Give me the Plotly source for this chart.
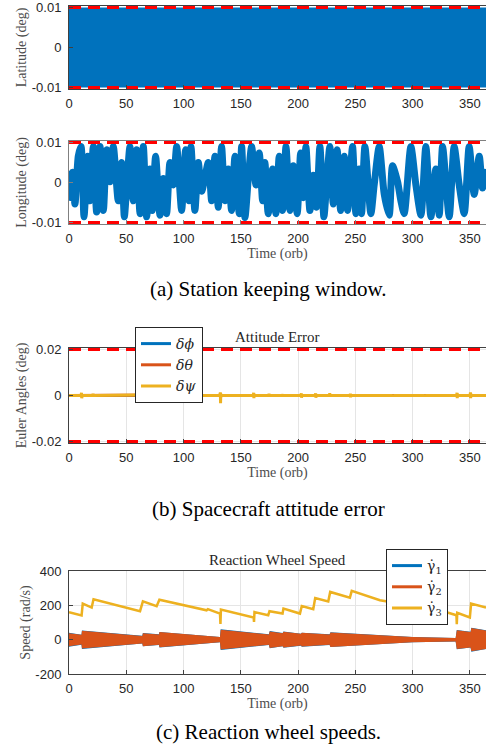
import plotly.graph_objects as go

# ---------------- data ----------------
time_ticks = [0, 50, 100, 150, 200, 250, 300, 350]

# (a) latitude: dense oscillation filling the window -> envelope
lat_t = [0, 365]
lat_upper = [0.01, 0.01]
lat_lower = [-0.01, -0.01]
lat_bound = 0.01

# (a) longitude: turning points of the thick oscillating trace
lon_t = [0, 2.9, 5.2, 8.1, 10.5, 13.1, 16.3, 18.3, 21.2, 24.1, 27.1, 30.0, 32.9, 35.8,
         38.7, 43.0, 46.0, 48.3, 50.3, 53.2, 56.1, 59.0, 62.0, 64.9, 67.8, 70.7, 72.7,
         75.6, 79.4, 82.3, 85.2, 88.1, 91.0, 94.0, 98.3, 101.8, 104.7, 106.5, 109.9,
         112.9, 115.8, 121.6, 124.5, 127.4, 130.3, 133.2, 136.1, 139.0, 141.9, 144.9,
         148.6, 150.7, 153.6, 156.5, 159.4, 163.2, 166.1, 169.0, 171.0, 173.9, 177.7,
         180.6, 183.5, 186.4, 189.4, 192.8, 195.8, 199.2, 202.2, 204.5, 206.8, 210.3,
         213.2, 216.1, 219.0, 222.5, 224.8, 227.7, 230.7, 234.1, 237.1, 240.3, 243.2,
         247.5, 250.4, 253.3, 255.4, 258.3, 263.5, 266.4, 270.8, 275.2, 279.5, 282.4,
         286.8, 289.7, 292.6, 298.4, 302.8, 307.2, 311.5, 315.9, 320.2, 323.2, 326.1,
         331.9, 336.2, 340.6, 345.0, 349.3, 353.7, 358.1, 361.0, 363.9]
lon_v = [-0.0046, 0.0026, -0.0054, 0.0066, 0.0090, -0.0086, 0.0066, -0.0046, 0.0090,
         -0.0074, 0.0090, -0.0070, 0.0082, 0.0002, 0.0090, -0.0046, 0.0050, -0.0086,
         -0.0014, 0.0090, -0.0046, 0.0082, -0.0078, 0.0090, -0.0086, 0.0034, -0.0070,
         0.0066, -0.0082, 0.0010, -0.0078, 0.0050, -0.0006, 0.0090, -0.0070, 0.0082,
         -0.0046, 0.0090, -0.0070, 0.0050, -0.0022, 0.0050, -0.0046, 0.0066, -0.0062,
         0.0090, -0.0046, 0.0034, -0.0070, 0.0066, -0.0078, 0.0090, -0.0088, 0.0010,
         0.0090, -0.0006, 0.0074, -0.0046, 0.0050, -0.0078, 0.0034, -0.0078, 0.0066,
         -0.0070, 0.0090, -0.0070, 0.0042, -0.0078, 0.0074, -0.0038, 0.0090, -0.0070,
         0.0018, -0.0062, 0.0090, -0.0086, -0.0006, 0.0090, -0.0054, 0.0082, -0.0070,
         0.0066, -0.0070, 0.0090, -0.0078, 0.0034, -0.0078, 0.0090, -0.0078, -0.0006,
         0.0090, -0.0030, -0.0082, 0.0042, 0.0002, -0.0046, -0.0078, 0.0090, -0.0006,
         -0.0082, 0.0090, -0.0086, 0.0034, -0.0082, 0.0090, -0.0086, 0.0090, -0.0006,
         -0.0078, 0.0090, -0.0030, 0.0066, -0.0014, 0.0034]

# (b) attitude error: near-zero traces with short transients
att_bound = 0.02
phi_spike_t = [132.3]
phi_spike_hi = [0.0006]
phi_spike_lo = [-0.0006]
theta_spike_t = [79.4, 132.3]
theta_spike_hi = [0.0002, 0.0008]
theta_spike_lo = [-0.0008, -0.0010]
psi_spike_t = [11.1, 21.2, 79.4, 132.3, 161.4, 174.8, 187.0, 203.0, 215.5, 227.8,
               245.8, 283.0, 310.7, 338.9, 350.6]
psi_spike_hi = [0.0012, 0.0008, 0.0003, 0.0014, 0.0012, 0.0008, 0.0006, 0.0010, 0.0010,
                0.0010, 0.0008, 0.0003, 0.0004, 0.0012, 0.0014]
psi_spike_lo = [-0.0012, -0.0004, -0.0003, -0.0034, -0.0012, -0.0006, -0.0004, -0.0010,
                -0.0010, -0.0006, -0.0008, -0.0003, -0.0003, -0.0012, -0.0012]

# (c) reaction wheel speeds
g3_t = [0, 11.0, 12.0, 19.8, 21.4, 62.0, 64.5, 76.5, 78.9, 94.0, 120.1, 121.2, 131.8,
        132.2, 132.6, 161.2, 161.5, 161.9, 173.9, 175.0, 186.4, 187.2, 201.6, 203.2,
        213.2, 214.9, 226.3, 228.0, 245.2, 246.8, 271.4, 297.6, 329.6, 338.2, 338.5,
        338.9, 349.9, 351.0, 364]
g3_v = [160, 141, 210, 187, 235, 166, 223, 195, 233, 210, 171, 178, 152, 91, 175, 129,
        103, 161, 142, 166, 152, 181, 152, 196, 177, 243, 223, 278, 245, 284, 230, 200,
        160, 142, 90, 156, 129, 210, 187]
env_t = [0, 10.9, 11.3, 62.0, 64.0, 64.5, 78.5, 79.0, 131.8, 132.4, 174.5, 175.2, 186.5,
         187.2, 202.5, 203.2, 227.5, 228.2, 300.0, 337.5, 338.5, 350.5, 351.2, 364]
g2_amp = [38, 28, 52, 22, 22, 38, 30, 44, 15, 58, 30, 48, 38, 46, 34, 40, 30, 42, 15,
          10, 55, 45, 68, 54]
g1_amp = [41, 29, 54, 23, 23, 39, 31, 45, 15, 60, 31, 50, 39, 47, 35, 41, 31, 43, 15,
          10, 56, 46, 70, 55]

BLUE = "#0072BD"
ORANGE = "#D95319"
YELLOW = "#EDB120"
RED = "#FF0000"
SANS = "Liberation Sans"
SERIF = "Liberation Serif"
MATH = "DejaVu Serif"
TMAX = 365


def spike_series(ts, hi, lo):
    xs, ys = [0], [0]
    for t, h, l in zip(ts, hi, lo):
        xs += [t - 0.5, t - 0.2, t, t + 0.2, t + 0.5]
        ys += [0, h, l, h * 0.5, 0]
    xs.append(TMAX)
    ys.append(0)
    return xs, ys


fig = go.Figure()

# ---- panel 1: latitude
fig.add_trace(go.Scatter(x=lat_t, y=lat_upper, mode="lines", line=dict(width=0, color=BLUE),
                         showlegend=False, xaxis="x", yaxis="y", hoverinfo="skip"))
fig.add_trace(go.Scatter(x=lat_t, y=lat_lower, mode="lines", line=dict(width=0, color=BLUE),
                         fill="tonexty", fillcolor=BLUE, showlegend=False, xaxis="x", yaxis="y"))
for b in (lat_bound, -lat_bound):
    fig.add_trace(go.Scatter(x=[0, TMAX], y=[b, b], mode="lines",
                             line=dict(color=RED, width=3, dash="12px,7px"),
                             showlegend=False, xaxis="x", yaxis="y"))

# ---- panel 2: longitude
fig.add_trace(go.Scatter(x=lon_t, y=lon_v, mode="lines",
                         line=dict(color=BLUE, width=7, shape="spline", smoothing=0.7),
                         showlegend=False, xaxis="x2", yaxis="y2"))
for b in (lat_bound, -lat_bound):
    fig.add_trace(go.Scatter(x=[0, TMAX], y=[b, b], mode="lines",
                             line=dict(color=RED, width=3, dash="12px,7px"),
                             showlegend=False, xaxis="x2", yaxis="y2"))

# ---- panel 3: attitude error
for name, col, ts, hi, lo in [("<i>δϕ</i>", BLUE, phi_spike_t, phi_spike_hi, phi_spike_lo),
                              ("<i>δθ</i>", ORANGE, theta_spike_t, theta_spike_hi, theta_spike_lo),
                              ("<i>δψ</i>", YELLOW, psi_spike_t, psi_spike_hi, psi_spike_lo)]:
    xs, ys = spike_series(ts, hi, lo)
    fig.add_trace(go.Scatter(x=xs, y=ys, mode="lines", name=name,
                             line=dict(color=col, width=3),
                             xaxis="x3", yaxis="y3", legend="legend"))
for b in (att_bound, -att_bound):
    fig.add_trace(go.Scatter(x=[0, TMAX], y=[b, b], mode="lines",
                             line=dict(color=RED, width=3, dash="12px,7px"),
                             showlegend=False, xaxis="x3", yaxis="y3"))

# ---- panel 4: reaction wheel speeds
for amp, col in [(g1_amp, BLUE), (g2_amp, ORANGE)]:
    fig.add_trace(go.Scatter(x=env_t, y=amp, mode="lines", line=dict(width=0, color=col),
                             showlegend=False, xaxis="x4", yaxis="y4", hoverinfo="skip"))
    fig.add_trace(go.Scatter(x=env_t, y=[-a for a in amp], mode="lines",
                             line=dict(width=0, color=col), fill="tonexty", fillcolor=col,
                             showlegend=False, xaxis="x4", yaxis="y4"))
fig.add_trace(go.Scatter(x=g3_t, y=g3_v, mode="lines", line=dict(color=YELLOW, width=2.5),
                         showlegend=False, xaxis="x4", yaxis="y4"))
for name, col in [("γ̇<sub>1</sub>", BLUE), ("γ̇<sub>2</sub>", ORANGE), ("γ̇<sub>3</sub>", YELLOW)]:
    fig.add_trace(go.Scatter(x=[None], y=[None], mode="lines", name=name,
                             line=dict(color=col, width=3), xaxis="x4", yaxis="y4",
                             legend="legend2"))

# ---------------- layout ----------------
W, H = 486, 749
xdom = [69 / W, 1.0]


def ydom(top, bottom):
    return [1 - bottom / H, 1 - top / H]


tickfont = dict(family=SANS, size=13, color="#262626")
titlefont = dict(family=SERIF, size=14, color="#4d4d4d")


def xaxis(anchor, grid, linecolor, title=None):
    d = dict(domain=xdom, anchor=anchor, range=[0, 364], tickvals=time_ticks,
             ticks="inside", ticklen=4, tickcolor=linecolor, showline=True, mirror=True,
             linecolor=linecolor, linewidth=1, showgrid=grid, gridcolor="#e5e5e5",
             zeroline=False, tickfont=tickfont, ticklabelstandoff=2, automargin=False)
    if title:
        d["title"] = dict(text=title, font=titlefont, standoff=0)
    return d


def yaxis(anchor, dom, rng, tickvals, ticktext, title, grid, linecolor):
    return dict(domain=dom, anchor=anchor, range=rng, tickvals=tickvals, ticktext=ticktext,
                ticks="inside", ticklen=4, tickcolor=linecolor, showline=True, mirror=False,
                linecolor=linecolor, linewidth=1, showgrid=grid, gridcolor="#e5e5e5",
                zeroline=False, tickfont=tickfont, ticklabelstandoff=4, automargin=False,
                title=dict(text=title, font=titlefont, standoff=1))


def note(text, xpx, ypx, size, color):
    return dict(text=text, x=xpx / W, y=1 - ypx / H, xref="paper", yref="paper",
                xanchor="center", yanchor="middle", showarrow=False,
                font=dict(family=SERIF, size=size, color=color))


pad1 = 0.0004
pad3 = 0.0007
legfont = dict(family=MATH, size=14, color="#262626")
fig.update_layout(
    width=W, height=H, margin=dict(l=0, r=0, t=0, b=0, autoexpand=False),
    paper_bgcolor="white", plot_bgcolor="white",
    xaxis=xaxis("y", False, "#404040"),
    yaxis=yaxis("x", ydom(6, 89), [-lat_bound - pad1, lat_bound + pad1], [-0.01, 0, 0.01],
                ["-0.01", "0", "0.01"], "Latitude (deg)", False, "#404040"),
    xaxis2=xaxis("y2", False, "#808080", "Time (orb)"),
    yaxis2=yaxis("x2", ydom(141, 224), [-lat_bound - pad1, lat_bound + pad1], [-0.01, 0, 0.01],
                 ["-0.01", "0", "0.01"], "Longitude (deg)", False, "#808080"),
    xaxis3=xaxis("y3", True, "#404040", "Time (orb)"),
    yaxis3=yaxis("x3", ydom(348, 443), [-att_bound - pad3, att_bound + pad3], [-0.02, 0, 0.02],
                  ["-0.02", "0", "0.02"], "Euler Angles (deg)", True, "#404040"),
    xaxis4=xaxis("y4", True, "#404040", "Time (orb)"),
    yaxis4=yaxis("x4", ydom(571, 674), [-200, 400], [-200, 0, 200, 400],
                  ["-200", "0", "200", "400"], "Speed (rad/s)", True, "#404040"),
    legend=dict(x=135 / W, y=1 - 327 / H, xanchor="left", yanchor="top",
                bgcolor="white", bordercolor="#262626", borderwidth=1,
                font=legfont, tracegroupgap=0, traceorder="normal"),
    legend2=dict(x=386 / W, y=1 - 549 / H, xanchor="left", yanchor="top",
                 bgcolor="white", bordercolor="#262626", borderwidth=1,
                 font=legfont, tracegroupgap=0, traceorder="normal"),
    annotations=[
        note("Attitude Error", (69 + 486) / 2, 337, 15, "#262626"),
        note("Reaction Wheel Speed", (69 + 486) / 2, 560, 15, "#262626"),
        note("(a) Station keeping window.", 268, 289, 21, "black"),
        note("(b) Spacecraft attitude error", 268, 509, 21, "black"),
        note("(c) Reaction wheel speeds.", 268, 732, 21, "black"),
    ],
)

fig.write_html("out.html", config={"displayModeBar": False},
               post_script="document.body.style.margin='0';document.body.style.padding='0';")
